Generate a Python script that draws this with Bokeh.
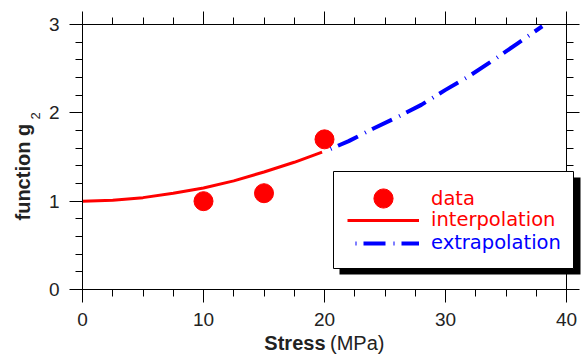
import math
from bokeh.plotting import figure
from bokeh.models import (LinearAxis, Range1d, BoxAnnotation, Legend, LegendItem, Label,
                          SingleIntervalTicker, CustomJSTickFormatter)
from bokeh.embed import file_html
from bokeh.resources import INLINE

# ---- data ----
stress_data = [10, 15, 20]
g2_data = [1.0, 1.09, 1.70]

interp_stress = [0, 2.5, 5, 7.5, 10, 12.5, 15, 17.5, 19.8]
interp_g2 = [1.0, 1.01, 1.04, 1.09, 1.15, 1.23, 1.33, 1.44, 1.555]

extrap_stress = [19.9, 22, 24, 26, 28, 30, 32, 34, 36, 38]
extrap_g2 = [1.555, 1.68, 1.82, 1.95, 2.09, 2.26, 2.42, 2.60, 2.79, 2.98]

x_bounds = (0, 40)
y_bounds = (0, 3)
x_title_bold = "Stress"
x_title_unit = "(MPa)"
y_title = "function g"
y_title_sub = "2"
legend_labels = ["data", "interpolation", "extrapolation"]

RED = "#ff0000"
BLUE = "#0000ff"
INK = "#222222"

# The frame spans the whole canvas; the axes sit at fixed data locations so
# that titles and the legend box can live outside the data rectangle.
W, H = 583, 354
X0_PX, X1_PX = 82, 566   # pixel columns of stress 0 and 40
Y0_PX, Y1_PX = 289, 24   # pixel rows of g2 0 and 3
sx = (X1_PX - X0_PX) / (x_bounds[1] - x_bounds[0])
sy = (Y0_PX - Y1_PX) / (y_bounds[1] - y_bounds[0])
x_range = Range1d(x_bounds[0] - X0_PX / sx, x_bounds[0] + (W - X0_PX) / sx)
y_range = Range1d(y_bounds[0] - (H - Y0_PX) / sy, y_bounds[0] + Y0_PX / sy)


def px_x(px):
    return x_bounds[0] + (px - X0_PX) / sx


def px_y(py):
    return y_bounds[0] + (Y0_PX - py) / sy


p = figure(frame_width=W, frame_height=H, x_range=x_range, y_range=y_range,
           x_axis_type=None, y_axis_type=None, min_border=0,
           output_backend="svg", toolbar_location=None,
           background_fill_color="white", border_fill_color="white")
p.xgrid.visible = False
p.ygrid.visible = False
p.outline_line_color = None


def make_axis(side, loc, bounds, interval, minor, labels):
    ax = LinearAxis(fixed_location=loc, bounds=bounds,
                    ticker=SingleIntervalTicker(interval=interval, num_minor_ticks=minor))
    ax.axis_line_color = "black"
    ax.axis_line_width = 1
    ax.major_tick_line_color = "black"
    ax.minor_tick_line_color = "black"
    ax.major_tick_out = 13
    ax.major_tick_in = 0
    ax.minor_tick_out = 7
    ax.minor_tick_in = 0
    if labels:
        ax.major_label_text_font = "Liberation Sans"
        ax.major_label_text_font_size = "19px"
        ax.major_label_text_color = INK
        ax.major_label_standoff = 10
    else:
        ax.formatter = CustomJSTickFormatter(code="return ''")
        ax.major_label_text_font_size = "0px"
        ax.major_label_standoff = 0
    p.add_layout(ax, side)
    return ax


make_axis("below", y_bounds[0], x_bounds, 10, 4, True)
make_axis("left", x_bounds[0], y_bounds, 1, 5, True)
make_axis("above", y_bounds[1], x_bounds, 10, 4, False)
make_axis("right", x_bounds[1], y_bounds, 1, 5, False)

# ---- series ----
r_interp = p.line(interp_stress, interp_g2, line_color=RED, line_width=3)
r_extrap = p.line(extrap_stress, extrap_g2, line_color=BLUE, line_width=4,
                  line_dash="22 8 1 7", line_dash_offset=22)
r_data = p.scatter(stress_data, g2_data, size=19, marker="circle",
                   fill_color=RED, line_color=RED)

# ---- axis titles ----
p.add_layout(Label(x=px_x(325), y=px_y(342.5), text=x_title_bold, text_align="right",
                   text_baseline="alphabetic", text_font="Liberation Sans",
                   text_font_style="bold", text_font_size="20px", text_color=INK))
p.add_layout(Label(x=px_x(329.5), y=px_y(342.5), text=x_title_unit, text_align="left",
                   text_baseline="alphabetic", text_font="Liberation Sans",
                   text_font_size="20px", text_color=INK))
p.add_layout(Label(x=px_x(22), y=px_y(220), text=y_title, angle=math.pi / 2,
                   text_align="left", text_baseline="alphabetic",
                   text_font="Liberation Sans", text_font_style="bold",
                   text_font_size="20px", text_color=INK))
p.add_layout(Label(x=px_x(34.5), y=px_y(119), text=y_title_sub, angle=math.pi / 2,
                   text_align="left", text_baseline="alphabetic",
                   text_font="Liberation Sans", text_font_size="13px", text_color=INK))

# ---- legend box with shadow ----
p.add_layout(BoxAnnotation(left=px_x(339), right=px_x(580), top=px_y(177), bottom=px_y(274),
                           fill_color="black", fill_alpha=1, line_color=None))
p.add_layout(BoxAnnotation(left=px_x(333), right=px_x(573), top=px_y(171), bottom=px_y(268),
                           fill_color="white", fill_alpha=1, line_color="black",
                           line_alpha=1, line_width=1))


def add_legend(label, renderer, color, gh, row_center):
    bottom = row_center + gh / 2
    lg = Legend(items=[LegendItem(label=label, renderers=[renderer])],
                location=(347, H - bottom), glyph_width=72, glyph_height=gh,
                label_height=gh, label_standoff=12, padding=0, margin=0, spacing=0,
                border_line_color=None, background_fill_alpha=0,
                label_text_font="DejaVu Sans", label_text_font_size="19.5px",
                label_text_color=color)
    p.add_layout(lg)


add_legend(legend_labels[0], r_data, RED, 48, 198)
add_legend(legend_labels[1], r_interp, RED, 20, 221)
add_legend(legend_labels[2], r_extrap, BLUE, 20, 244)

open("out.html", "w").write(file_html(p, INLINE))
